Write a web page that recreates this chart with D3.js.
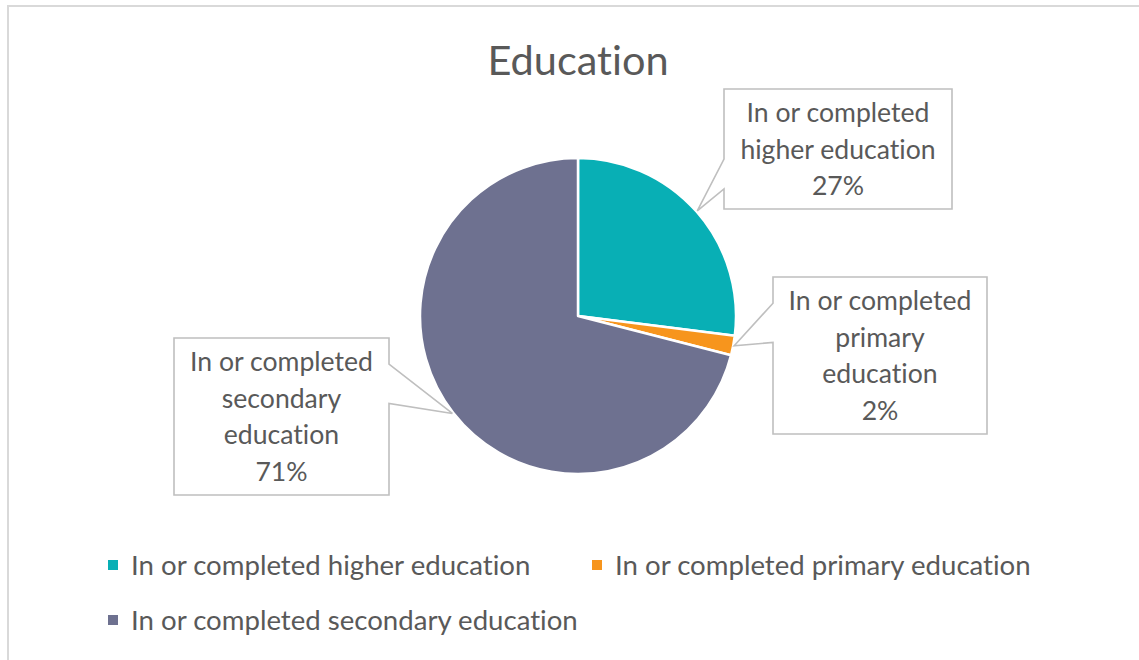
<!DOCTYPE html>
<html>
<head>
<meta charset="utf-8">
<script src="https://cdn.jsdelivr.net/npm/d3@7"></script>
<style>
  html, body { margin: 0; padding: 0; background: #ffffff; }
  svg { display: block; }
  text { font-family: Lato, "Open Sans", sans-serif; fill: #595959; font-variant-ligatures: none; }
</style>
</head>
<body>
<svg id="chart" width="1139" height="660"></svg>
<script>
// Education level shares (percent)
const categories = [
  "In or completed higher education",
  "In or completed primary education",
  "In or completed secondary education"
];
const shares = [27, 2, 71];
const sliceColors = ["#08AFB5", "#F7951D", "#6E7190"];
const chartTitle = "Education";

// Callout boxes [x, y, width, height] for each category's data label
const calloutBoxes = [
  [724, 89, 228, 120],
  [773, 277, 214, 157],
  [174, 338, 215, 157]
];

const svg = d3.select("#chart");
const W = 1139, H = 660;
const labelSize = 26.6;

// Chart area frame
svg.append("rect")
  .attr("x", 8).attr("y", 6)
  .attr("width", W + 20).attr("height", H + 20)
  .attr("fill", "#ffffff")
  .attr("stroke", "#D9D9D9").attr("stroke-width", 2);

// Title
svg.append("text")
  .attr("x", 578).attr("y", 75)
  .attr("text-anchor", "middle")
  .attr("font-size", 41.5)
  .text(chartTitle);

// Pie
const cx = 578, cy = 316, R = 158;
const pie = d3.pie().sort(null).value(d => d.value);
const data = categories.map((c, i) => ({ name: c, value: shares[i], color: sliceColors[i] }));
const arcs = pie(data);
const arc = d3.arc().innerRadius(0).outerRadius(R);

const g = svg.append("g").attr("transform", `translate(${cx},${cy})`);
g.selectAll("path.slice")
  .data(arcs)
  .join("path")
  .attr("class", "slice")
  .attr("d", arc)
  .attr("fill", d => d.data.color)
  .attr("stroke", "#ffffff")
  .attr("stroke-width", 2.5)
  .attr("stroke-linejoin", "round");

// Wrap a label into lines that fit a maximum width
const measurer = svg.append("text").attr("font-size", labelSize).attr("visibility", "hidden");
function wrap(str, maxW) {
  const words = str.split(" ");
  const lines = [];
  let cur = "";
  for (const w of words) {
    const test = cur ? cur + " " + w : w;
    measurer.text(test);
    if (cur && measurer.node().getComputedTextLength() > maxW) {
      lines.push(cur);
      cur = w;
    } else {
      cur = test;
    }
  }
  if (cur) lines.push(cur);
  return lines;
}

// Rectangular callout with a wedge pointing to (tx, ty)
function calloutPath(x, y, w, h, tx, ty) {
  const dxPos = tx - (x + w / 2), dyPos = ty - (y + h / 2);
  const dq = dxPos * h / w;
  const dz = Math.abs(dyPos) - Math.abs(dq);
  const xg1 = dxPos > 0 ? 7 : 2, xg2 = dxPos > 0 ? 10 : 5;
  const yg1 = dyPos > 0 ? 7 : 2, yg2 = dyPos > 0 ? 10 : 5;
  const x1 = x + w * xg1 / 12, x2 = x + w * xg2 / 12;
  const y1 = y + h * yg1 / 12, y2 = y + h * yg2 / 12;
  const r = x + w, b = y + h;
  const p = d3.path();
  p.moveTo(x, y);
  if (dz > 0 && dyPos < 0) { p.lineTo(x1, y); p.lineTo(tx, ty); p.lineTo(x2, y); }
  p.lineTo(r, y);
  if (dz <= 0 && dxPos > 0) { p.lineTo(r, y1); p.lineTo(tx, ty); p.lineTo(r, y2); }
  p.lineTo(r, b);
  if (dz > 0 && dyPos > 0) { p.lineTo(x2, b); p.lineTo(tx, ty); p.lineTo(x1, b); }
  p.lineTo(x, b);
  if (dz <= 0 && dxPos < 0) { p.lineTo(x, y2); p.lineTo(tx, ty); p.lineTo(x, y1); }
  p.closePath();
  return p.toString();
}

const lineH = 36.8;
arcs.forEach((a, i) => {
  const [bx, by, bw, bh] = calloutBoxes[i];
  const mid = (a.startAngle + a.endAngle) / 2;
  const tx = cx + 159 * Math.sin(mid);
  const ty = cy - 159 * Math.cos(mid);
  svg.append("path")
    .attr("d", calloutPath(bx, by, bw, bh, tx, ty))
    .attr("fill", "#ffffff")
    .attr("stroke", "#BFBFBF")
    .attr("stroke-width", 1.6);
  const lines = wrap(a.data.name, bw - 18).concat([d3.format(".0%")(a.data.value / 100)]);
  const midY = by + bh / 2;
  const firstBase = midY - (lines.length - 1) * lineH / 2 + 9.5;
  const t = svg.append("text")
    .attr("font-size", labelSize)
    .attr("text-anchor", "middle");
  lines.forEach((ln, k) => {
    t.append("tspan")
      .attr("x", bx + bw / 2)
      .attr("y", firstBase + k * lineH)
      .text(ln);
  });
});
measurer.remove();

// Legend
const legendPos = [[108, 575], [592, 575], [108, 630]];
const leg = svg.append("g");
categories.forEach((c, i) => {
  const [lx, ly] = legendPos[i];
  leg.append("rect")
    .attr("x", lx).attr("y", ly - 15)
    .attr("width", 10).attr("height", 10)
    .attr("fill", sliceColors[i]);
  leg.append("text")
    .attr("x", lx + 23).attr("y", ly)
    .attr("font-size", 27.6)
    .text(c);
});
</script>
</body>
</html>
